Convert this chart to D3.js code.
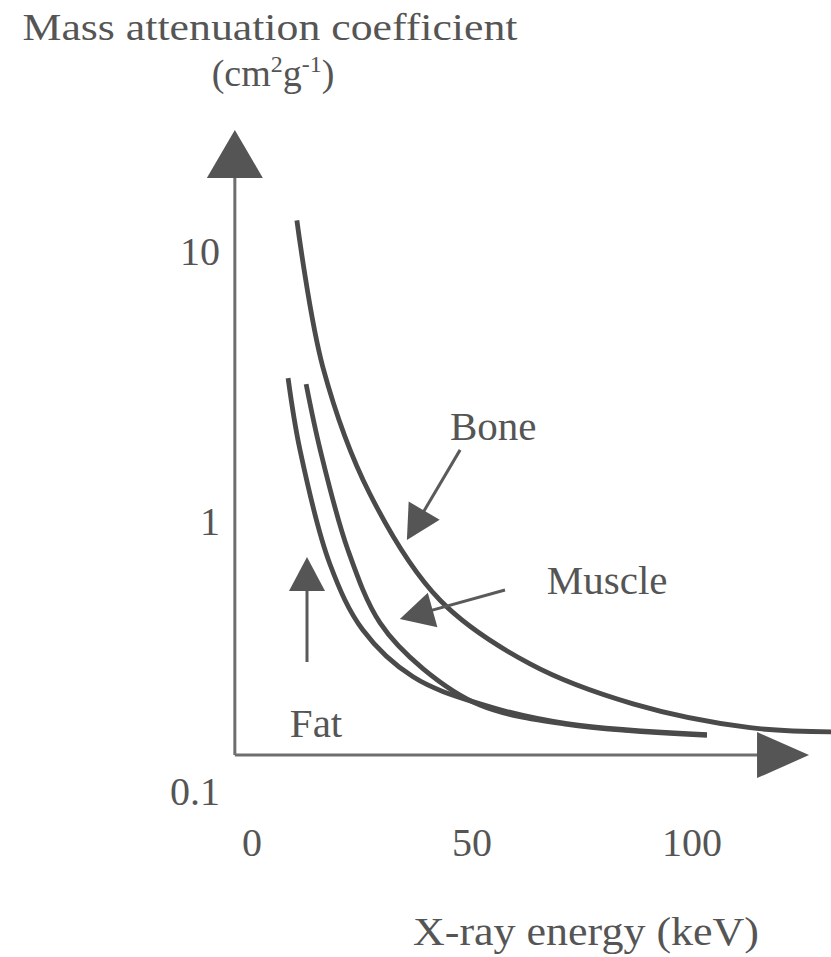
<!DOCTYPE html>
<html>
<head>
<meta charset="utf-8">
<script src="https://cdn.jsdelivr.net/npm/d3@7"></script>
<style>
  body { margin: 0; background: #fff; }
  text { font-family: 'Liberation Serif', 'DejaVu Serif', serif; fill: #555; }
</style>
</head>
<body>
<div id="chart"></div>
<script>
// energy (keV) vs mass attenuation coefficient (cm2/g)
const boneEnergy = [10.2, 16.1, 26.8, 42.7, 63.2, 86.6, 113.2, 131.6];
const boneValue = [13.1, 3.75, 1.27, 0.514, 0.298, 0.212, 0.173, 0.167];

const fatEnergy = [8.2, 10.9, 17.7, 25.2, 36.6, 51.8, 71.6, 103.4];
const fatValue = [3.41, 1.85, 0.699, 0.398, 0.267, 0.212, 0.179, 0.163];

const muscleEnergy = [12.3, 15.5, 21.8, 29.1, 38.9, 51.8, 71.6, 103.4];
const muscleValue = [3.24, 1.85, 0.788, 0.423, 0.286, 0.210, 0.178, 0.162];

const xTicks = [0, 50, 100];
const yTicks = [10, 1, 0.1];
const yTickLabels = ['10', '1', '0.1'];

// axis extent in data units (the drawn axes do not start at the tick labels)
const axisOriginX = -3.9;
const axisOriginY = 0.137;
const axisEndX = 126.6;
const axisEndY = 28.3;

// annotation arrows: [fromEnergy, fromValue, toEnergy, toValue]
const labels = [
  { text: 'Bone', x: 45.0, y: 2.01, arrow: [47.3, 1.85, 35.2, 0.858] },
  { text: 'Muscle', x: 67.0, y: 0.541, arrow: [57.5, 0.56, 33.6, 0.437] },
  { text: 'Fat', x: 8.6, y: 0.160, arrow: [12.5, 0.303, 12.5, 0.742] }
];

const width = 831;
const height = 957;

const svg = d3.select('#chart')
  .append('svg')
  .attr('width', width)
  .attr('height', height);

const x = d3.scaleLinear().domain([0, 100]).range([252, 692]);
const y = d3.scaleLog().domain([0.1, 10]).range([792, 252]);

const ink = '#4a4a4a';
const axisInk = '#6e6e6e';

// axes
svg.append('line')
  .attr('x1', x(axisOriginX)).attr('y1', y(axisOriginY))
  .attr('x2', x(axisOriginX)).attr('y2', y(axisEndY) + 46)
  .attr('stroke', axisInk).attr('stroke-width', 3);
svg.append('line')
  .attr('x1', x(axisOriginX)).attr('y1', y(axisOriginY))
  .attr('x2', x(axisEndX) - 50).attr('y2', y(axisOriginY))
  .attr('stroke', axisInk).attr('stroke-width', 3);

// filled arrow heads
function head(tipX, tipY, angle, len, half) {
  const a = angle * Math.PI / 180;
  const bx = tipX - len * Math.cos(a), by = tipY - len * Math.sin(a);
  const px = -Math.sin(a) * half, py = Math.cos(a) * half;
  return [[tipX, tipY], [bx + px, by + py], [bx - px, by - py]];
}
svg.append('polygon')
  .attr('points', head(x(axisOriginX), y(axisEndY), -90, 48, 28).join(' '))
  .attr('fill', '#555');
svg.append('polygon')
  .attr('points', head(x(axisEndX), y(axisOriginY), 0, 52, 23).join(' '))
  .attr('fill', '#555');

// tick labels
svg.selectAll('.xtick')
  .data(xTicks)
  .enter()
  .append('text')
  .attr('class', 'xtick')
  .attr('x', (d) => x(d))
  .attr('y', 856)
  .attr('text-anchor', 'middle')
  .style('font-size', '40px')
  .text((d) => d);

svg.selectAll('.ytick')
  .data(yTicks)
  .enter()
  .append('text')
  .attr('class', 'ytick')
  .attr('x', 220)
  .attr('y', (d) => y(d) + 13)
  .attr('text-anchor', 'end')
  .style('font-size', '40px')
  .text((d, i) => yTickLabels[i]);

// axis titles
svg.append('text')
  .attr('x', 270).attr('y', 40)
  .attr('text-anchor', 'middle')
  .style('font-size', '38px')
  .attr('textLength', 495)
  .attr('lengthAdjust', 'spacingAndGlyphs')
  .text('Mass attenuation coefficient');

const unit = svg.append('text')
  .attr('x', 273).attr('y', 86)
  .attr('text-anchor', 'middle')
  .style('font-size', '38px');
unit.append('tspan').text('(cm');
unit.append('tspan').attr('dy', -14).style('font-size', '24px').text('2');
unit.append('tspan').attr('dy', 14).text('g');
unit.append('tspan').attr('dy', -14).style('font-size', '24px').text('-1');
unit.append('tspan').attr('dy', 14).text(')');

svg.append('text')
  .attr('x', 586).attr('y', 945)
  .attr('text-anchor', 'middle')
  .style('font-size', '39px')
  .attr('textLength', 346)
  .attr('lengthAdjust', 'spacingAndGlyphs')
  .text('X-ray energy (keV)');

// curves
const line = d3.line()
  .x((d) => x(d[0]))
  .y((d) => y(d[1]))
  .curve(d3.curveCatmullRom.alpha(0.5));

const series = [
  d3.zip(boneEnergy, boneValue),
  d3.zip(fatEnergy, fatValue),
  d3.zip(muscleEnergy, muscleValue)
];

svg.selectAll('.curve')
  .data(series)
  .enter()
  .append('path')
  .attr('class', 'curve')
  .attr('d', line)
  .attr('fill', 'none')
  .attr('stroke', ink)
  .attr('stroke-width', 4.8)
  .attr('stroke-linecap', 'butt');

// labels with arrows
labels.forEach((l) => {
  svg.append('text')
    .attr('x', x(l.x)).attr('y', y(l.y))
    .style('font-size', '41px')
    .text(l.text);

  const x1 = x(l.arrow[0]), y1 = y(l.arrow[1]);
  const x2 = x(l.arrow[2]), y2 = y(l.arrow[3]);
  const a = Math.atan2(y2 - y1, x2 - x1);
  const len = 34;
  svg.append('line')
    .attr('x1', x1).attr('y1', y1)
    .attr('x2', x2 - (len - 4) * Math.cos(a)).attr('y2', y2 - (len - 4) * Math.sin(a))
    .attr('stroke', '#5a5a5a').attr('stroke-width', 3);
  svg.append('polygon')
    .attr('points', head(x2, y2, a * 180 / Math.PI, len, 18).join(' '))
    .attr('fill', '#555');
});
</script>
</body>
</html>
